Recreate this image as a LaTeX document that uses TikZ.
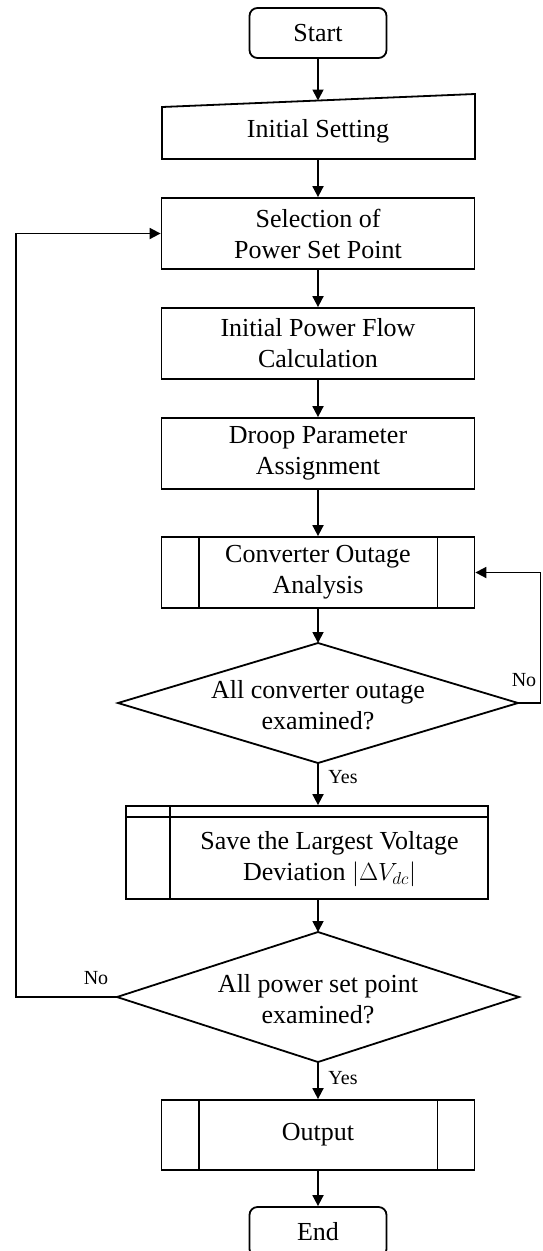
\documentclass[tikz,border=0pt]{standalone}
\usepackage{fontspec}
\setmainfont{Liberation Serif}
\usetikzlibrary{arrows.meta,calc}
\begin{document}
\begin{tikzpicture}[x=1pt,y=-1pt, line width=1.8pt,
  every node/.style={font=\fontsize{26}{31}\selectfont, align=center, inner sep=0pt},
  box/.style={draw, minimum width=313pt, minimum height=71pt},
  term/.style={draw, rounded corners=8pt, minimum width=137pt, minimum height=50pt},
  lbl/.style={font=\fontsize{20}{24}\selectfont},
  arr/.style={-{Triangle[length=11pt,width=11pt]}}]
\useasboundingbox (0,0) rectangle (542,1251);
\clip (0,0) rectangle (542,1251);

% Start
\node[term] (start) at (318,33) {Start};

% Initial setting (manual input shape)
\coordinate (iA) at (162,107);
\coordinate (iB) at (475,94);
\coordinate (iC) at (475,159);
\coordinate (iD) at (162,159);
\coordinate (initTop) at (318,100.5);
\coordinate (initBot) at (318,159);
\draw (iA) -- (iB) -- (iC) -- (iD) -- cycle;
\node (init) at (318,131) {Initial Setting};

\node[box] (sel) at (318,233.5) {Selection of\\Power Set Point};
\node[box] (ipf) at (318,343.5) {Initial Power Flow\\Calculation};
\node[box] (droop) at (318,453.5) {Droop Parameter\\Assignment};
\node[box] (coa) at (318,572.5) {Converter Outage\\Analysis};
\draw ([xshift=38pt]coa.north west) -- ([xshift=38pt]coa.south west);
\draw ([xshift=-38pt]coa.north east) -- ([xshift=-38pt]coa.south east);

% Decision 1
\coordinate (d1t) at (318,643);
\coordinate (d1r) at (518,703);
\coordinate (d1b) at (318,763);
\coordinate (d1l) at (118,703);
\draw (d1t) -- (d1r) -- (d1b) -- (d1l) -- cycle;
\node (d1) at (318,705) {All converter outage\\examined?};

% Save box
\node[draw, minimum width=362pt, minimum height=93pt] (save) at (307,852.5) {};
\draw ([yshift=-12pt]save.north west) -- ([yshift=-12pt]save.north east);
\draw ([xshift=45pt]save.north west) -- ([xshift=45pt]save.south west);
\node (savet) at (329.5,859) {Save the Largest Voltage\\Deviation $|\Delta V_{dc}|$};

% Decision 2
\coordinate (d2t) at (318,932);
\coordinate (d2r) at (519,997);
\coordinate (d2b) at (318,1062);
\coordinate (d2l) at (117,997);
\draw (d2t) -- (d2r) -- (d2b) -- (d2l) -- cycle;
\node (d2) at (318,999) {All power set point\\examined?};

% Output
\node[box, minimum height=70pt] (out) at (318,1135) {Output};
\draw ([xshift=38pt]out.north west) -- ([xshift=38pt]out.south west);
\draw ([xshift=-38pt]out.north east) -- ([xshift=-38pt]out.south east);

% End
\node[term] (end) at (318,1232) {End};

% Connectors
\draw[arr] (start) -- (initTop);
\draw[arr] (initBot) -- (sel);
\draw[arr] (sel) -- (ipf);
\draw[arr] (ipf) -- (droop);
\draw[arr] (droop) -- (coa);
\draw[arr] (coa) -- (d1t);
\draw[arr] (d1b) -- (d1b |- save.north);
\draw[arr] (d2t |- save.south) -- (d2t);
\draw[arr] (d2b) -- (out);
\draw[arr] (out) -- (end);

\coordinate (rc) at (540.5,703);
\draw[arr] (d1r) -- (rc) -- (rc |- coa.east) -- (coa.east);
\coordinate (lc) at (16,997);
\draw[arr] (d2l) -- (lc) -- (lc |- sel.west) -- (sel.west);

% Labels
\node[lbl] (no1) at (524,680) {No};
\node[lbl] (no2) at (96,978) {No};
\node[lbl] (yes1) at (343,777) {Yes};
\node[lbl] (yes2) at (343,1078) {Yes};
\end{tikzpicture}
\end{document}
